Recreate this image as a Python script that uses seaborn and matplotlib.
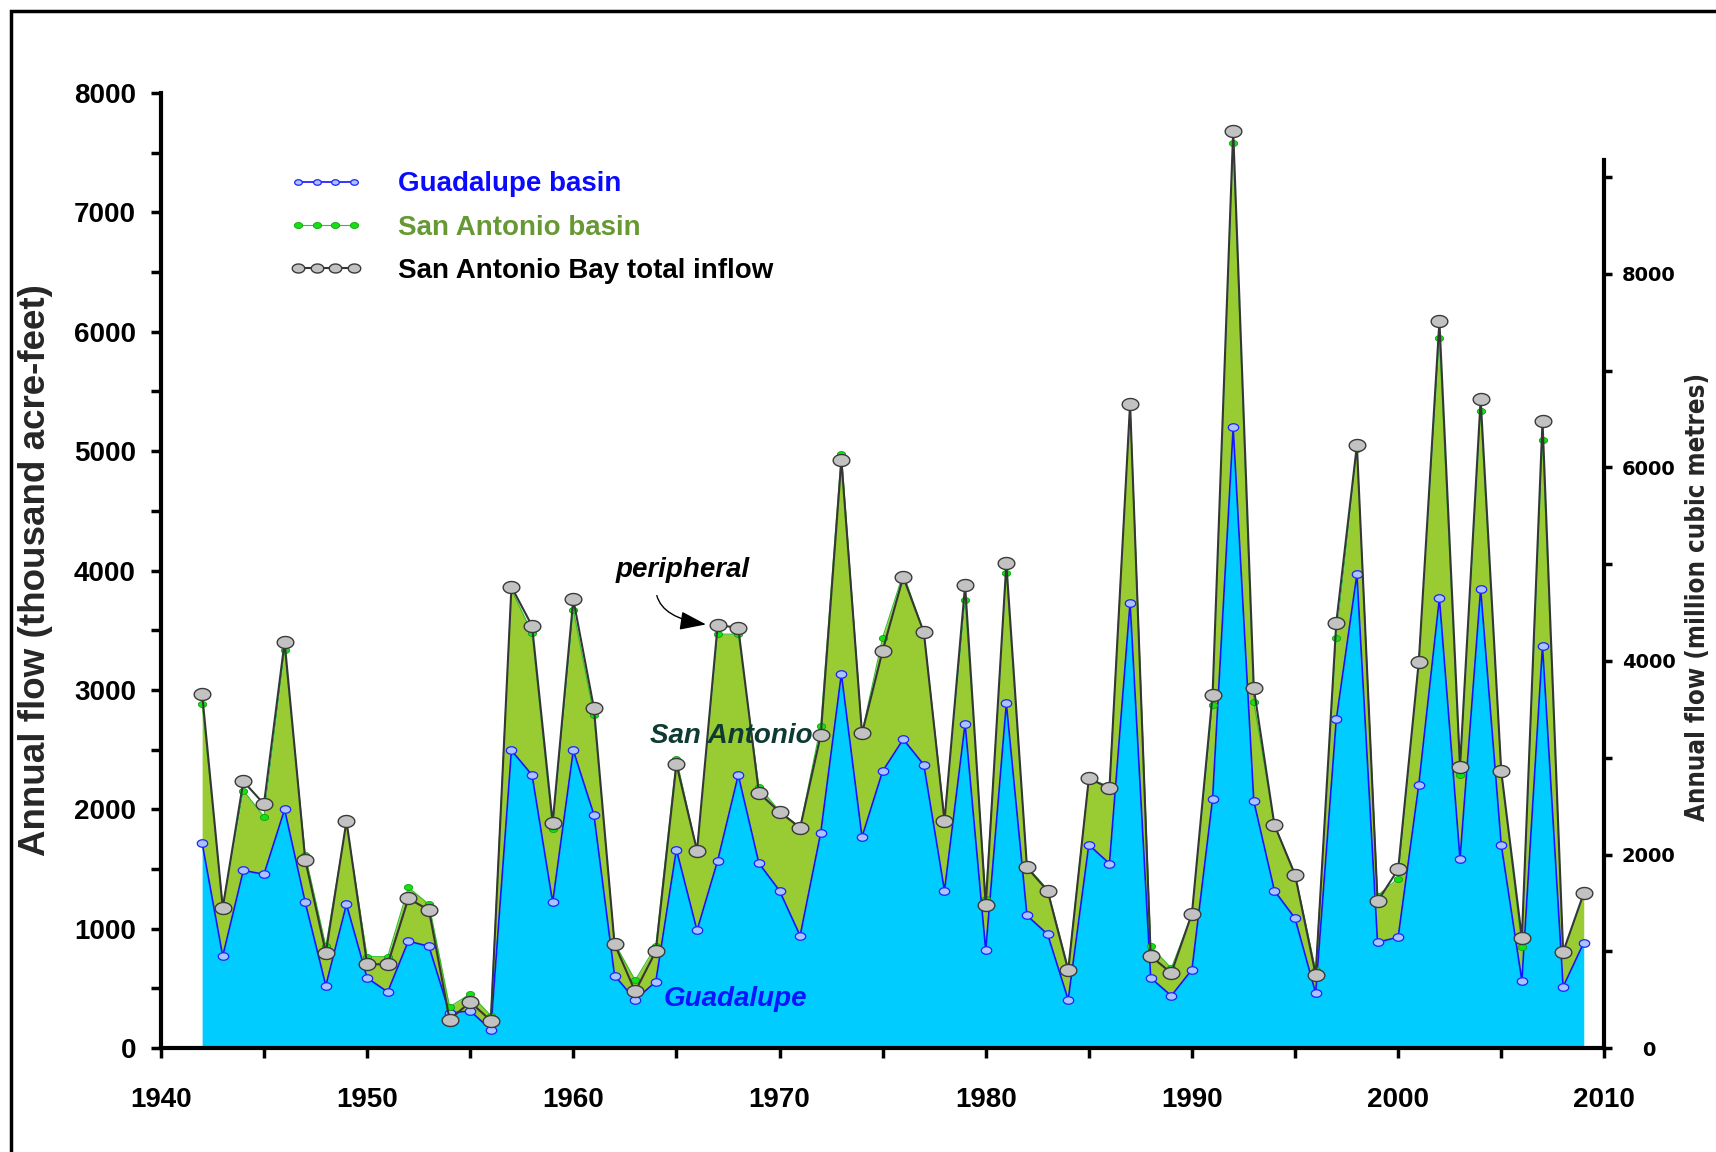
import numpy as np
import pandas as pd
import matplotlib
matplotlib.use("Agg")
import matplotlib.pyplot as plt
import seaborn as sns
from matplotlib.path import Path
from matplotlib.patches import Rectangle
from matplotlib.ticker import MultipleLocator

# ---------------- data (thousand acre-feet) ----------------
years = list(range(1942, 2010))

guadalupe_basin = [
    1719, 770, 1488, 1456, 1999, 1221, 523, 1204, 588, 470,
    896, 852, 292, 312, 154, 2494, 2287, 1221, 2494, 1955,
    608, 405, 556, 1663, 985, 1569, 2287, 1549, 1318, 941,
    1804, 3135, 1768, 2319, 2587, 2372, 1318, 2717, 819, 2887,
    1111, 953, 405, 1703, 1545, 3731, 588, 438, 657, 2084,
    5198, 2068, 1318, 1087, 461, 2753, 3968, 887, 928, 2205,
    3768, 1584, 3845, 1702, 564, 3368, 513, 882]

san_antonio_basin = [
    1164, 420, 669, 482, 1338, 397, 329, 682, 178, 296,
    450, 352, 53, 142, 118, 1346, 1192, 612, 1176, 831,
    272, 163, 296, 758, 669, 1898, 1180, 641, 667, 909,
    897, 1845, 872, 1120, 1387, 1108, 612, 1034, 430, 1091,
    409, 377, 265, 556, 645, 1659, 264, 231, 463, 787,
    2382, 831, 551, 373, 190, 682, 1052, 390, 492, 1030,
    2179, 703, 1487, 615, 282, 1728, 292, 415]

bay_total_inflow = [
    2968, 1176, 2234, 2044, 3402, 1577, 799, 1902, 702, 702,
    1253, 1156, 239, 385, 231, 3864, 3536, 1886, 3759, 2847,
    872, 474, 811, 2380, 1654, 3544, 3520, 2137, 1979, 1845,
    2624, 4927, 2636, 3329, 3946, 3483, 1902, 3877, 1196, 4059,
    1513, 1318, 653, 2259, 2177, 5397, 770, 629, 1127, 2960,
    7681, 3013, 1869, 1452, 615, 3563, 5050, 1230, 1497, 3235,
    6086, 2358, 5435, 2317, 923, 5255, 805, 1297]

series_labels = ["Guadalupe basin", "San Antonio basin", "San Antonio Bay total inflow"]
KAF_TO_MCM = 1.2335

# ---------------- style ----------------
sns.set_style("ticks")
plt.rcParams['font.family'] = ['Liberation Sans', 'DejaVu Sans']
plt.rcParams['font.weight'] = 'bold'

df = pd.DataFrame({"year": years,
                   "guadalupe": guadalupe_basin,
                   "san_antonio": san_antonio_basin,
                   "total": bay_total_inflow})
df["stack"] = df["guadalupe"] + df["san_antonio"]

t = np.linspace(0, 2 * np.pi, 41)
ellipse = Path(np.c_[np.cos(t), 0.72 * np.sin(t)], closed=True)

fig = plt.figure(figsize=(17.16, 11.52), dpi=100)
ax = fig.add_axes([0.09375, 0.0902, 0.8412, 0.8291])

# stacked areas
ax.fill_between(df["year"], 0, df["guadalupe"], color="#00ccff", lw=0, zorder=1)
ax.fill_between(df["year"], df["guadalupe"], df["stack"], color="#99cc33", lw=0, zorder=1)

sns.lineplot(data=df, x="year", y="guadalupe", ax=ax, color="#1414ff", lw=1.2,
             marker=ellipse, markersize=7.5, markerfacecolor="#a9c5ff",
             markeredgecolor="#2020ff", markeredgewidth=0.9,
             label=series_labels[0], zorder=4, estimator=None)
sns.lineplot(data=df, x="year", y="stack", ax=ax, color="#2fbf2f", lw=0.8,
             marker=ellipse, markersize=6, markerfacecolor="#14e014",
             markeredgecolor="#12a012", markeredgewidth=0.6,
             label=series_labels[1], zorder=5, estimator=None)
sns.lineplot(data=df, x="year", y="total", ax=ax, color="#363636", lw=1.5,
             marker=ellipse, markersize=12, markerfacecolor="#c2c2c2",
             markeredgecolor="#3a3a3a", markeredgewidth=1.0,
             label=series_labels[2], zorder=6, estimator=None)

ax.set_xlim(1940, 2010)
ax.set_ylim(0, 8000)
ax.xaxis.set_major_locator(MultipleLocator(10))
ax.xaxis.set_minor_locator(MultipleLocator(5))
ax.yaxis.set_major_locator(MultipleLocator(1000))
ax.yaxis.set_minor_locator(MultipleLocator(500))
for s in ["top", "right"]:
    ax.spines[s].set_visible(False)
for s in ["left", "bottom"]:
    ax.spines[s].set_linewidth(3)
    ax.spines[s].set_color("black")
ax.tick_params(axis='y', which='both', direction='out', length=7, width=2.5,
               pad=11, labelsize=20, colors='black')
ax.tick_params(axis='x', which='both', direction='out', length=7, width=2.5,
               pad=21, labelsize=20, colors='black')
ax.set_xlabel("")
ax.set_ylabel("Annual flow (thousand acre-feet)", fontsize=26.5, fontweight='bold')
ax.yaxis.set_label_coords(-0.0747, 0.5)

# right axis (million cubic metres)
ax2 = ax.twinx()
ax2.set_ylim(0, 8000 * KAF_TO_MCM)
for s in ["top", "left", "bottom"]:
    ax2.spines[s].set_visible(False)
ax2.spines["right"].set_linewidth(3)
ax2.spines["right"].set_color("black")
ax2.spines["right"].set_bounds(0, 9180)
ax2.yaxis.set_major_locator(MultipleLocator(2000))
ax2.yaxis.set_minor_locator(MultipleLocator(1000))
ax2.tick_params(axis='y', which='both', direction='out', length=6, width=2.5,
                pad=26, labelsize=14, colors='black')
for lbl in ax2.get_yticklabels():
    lbl.set_family('DejaVu Sans')
    lbl.set_fontweight('bold')
    lbl.set_ha('center')
ax2.set_ylabel("Annual flow (million cubic metres)", rotation=90, fontsize=18.5,
               fontweight='bold', family=['DejaVu Sans'], fontstretch='condensed')
ax2.yaxis.set_label_coords(1.056, 0.472)

# legend
handles, labels = ax.get_legend_handles_labels()
hmap = dict(zip(labels, handles))
leg = ax.legend([hmap[l] for l in series_labels], series_labels,
                loc='upper left', bbox_to_anchor=(0.0895, 0.918),
                borderaxespad=0, borderpad=0, numpoints=4,
                handlelength=2.6, handletextpad=1.3, labelspacing=0.62,
                frameon=False, prop={'weight': 'bold', 'size': 20})
for txt, col in zip(leg.get_texts(), ["#0a0aff", "#669933", "black"]):
    txt.set_color(col)
for h, ms in zip(leg.legend_handles, [5.5, 6, 9]):
    h.set_markersize(ms)

# annotations
ax.text(1967.65, 2612, "San Antonio", style='italic', fontweight='bold',
        color="#0d3b33", fontsize=20, ha='center', va='center', zorder=7)
ax.text(1967.86, 412, "Guadalupe", style='italic', fontweight='bold',
        color="#0a14ff", fontsize=20, ha='center', va='center', zorder=7)
ax.text(1965.3, 4005, "peripheral", style='italic', fontweight='bold',
        color="black", fontsize=20, ha='center', va='center', zorder=7)
ax.annotate("", xy=(1966.5, 3547), xytext=(1964.05, 3790), textcoords='data',
            zorder=7,
            arrowprops=dict(arrowstyle='-|>,head_length=0.9,head_width=0.32',
                            connectionstyle='angle3,angleA=-75,angleB=-8',
                            color='black', lw=1.0, shrinkA=0, shrinkB=1,
                            mutation_scale=18))

# outer frame (cut off at right and bottom like the reference)
fig.add_artist(Rectangle((0.0064, -0.2), 1.3, 1.1905, transform=fig.transFigure,
                         fill=False, lw=2.5, edgecolor='black', clip_on=False))

fig.savefig("out.png", dpi=100)
